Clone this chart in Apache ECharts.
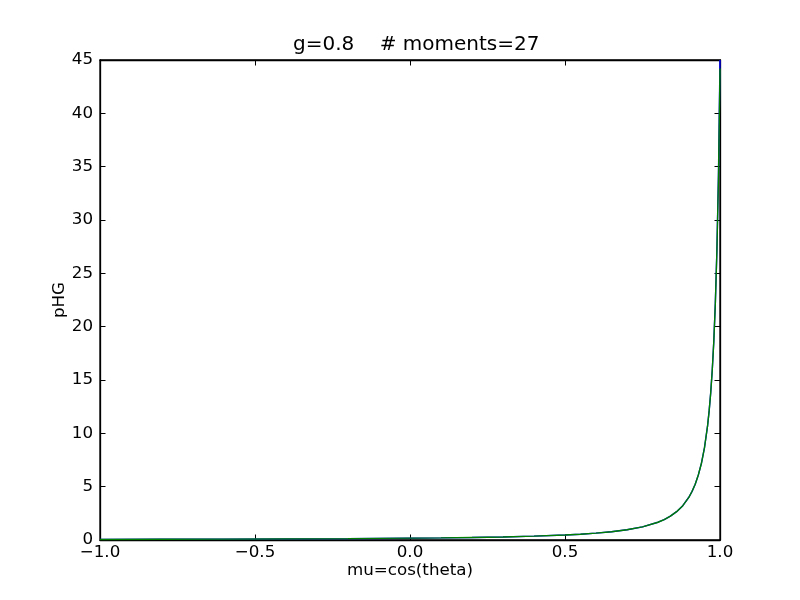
<!DOCTYPE html>
<html><head><meta charset="utf-8">
<script src="https://cdn.jsdelivr.net/npm/echarts@6/dist/echarts.min.js"></script>
<style>html,body{margin:0;padding:0;background:#fff}#c{width:800px;height:600px}</style>
</head><body><div id="c"></div>
<script>
var muValues = [-1.0,-0.8,-0.6,-0.4,-0.2,0.0,0.1,0.2,0.3,0.4,0.5,0.55,0.6,0.65,0.7,0.75,0.8,0.82,0.84,0.86,0.88,0.9,0.91,0.92,0.93,0.94,0.95,0.96,0.965,0.97,0.975,0.98,0.985,0.99,0.995,1.0];
var exactHG = [0.062,0.072,0.086,0.105,0.131,0.171,0.20,0.237,0.288,0.36,0.468,0.543,0.642,0.775,0.96,1.233,1.667,1.916,2.235,2.654,3.22,4.03,4.56,5.23,6.08,7.18,8.66,10.73,12.10,13.79,15.91,18.63,22.23,27.17,34.23,45.0];
var momentHG = [0.05,0.075,0.083,0.107,0.129,0.173,0.198,0.239,0.286,0.362,0.466,0.545,0.640,0.777,0.958,1.235,1.665,1.918,2.233,2.656,3.22,4.02,4.57,5.22,6.09,7.17,8.67,10.72,12.11,13.78,15.92,18.60,22.20,27.10,33.9,44.2];
var xTicks = [-1.0,-0.5,0.0,0.5,1.0];
var yTicks = [0,5,10,15,20,25,30,35,40,45];

function pairs(xs, ys){ return xs.map(function(x,i){return [x, ys[i]];}); }
var font = 'DejaVu Sans';
var chart = echarts.init(document.getElementById('c'), null, {renderer:'canvas'});
var axisCommon = {
  axisLine:{show:true,onZero:false,lineStyle:{color:'#000',width:1.3}},
  axisTick:{show:true,inside:true,length:5.5,lineStyle:{color:'#000',width:1}},
  splitLine:{show:false}
};
chart.setOption({
  animation:false,
  backgroundColor:'#fff',
  title:{text:'g=0.8    # moments=27',left:288,top:30,textStyle:{fontFamily:font,fontSize:20,fontWeight:'normal',color:'#000'}},
  grid:{left:100,right:80,top:60,bottom:60,show:true,borderColor:'#000',borderWidth:1.3},
  xAxis:[
    Object.assign({type:'value',min:-1,max:1,interval:0.5,position:'bottom',
      name:'mu=cos(theta)',nameLocation:'middle',nameGap:22,nameMoveOverlap:false,
      nameTextStyle:{fontFamily:font,fontSize:16.7,color:'#000'},
      axisLabel:{fontFamily:font,fontSize:16.7,color:'#000',margin:4,
        formatter:function(v){return v.toFixed(1).replace('-','\u2212');}}},axisCommon),
    Object.assign({type:'value',min:-1,max:1,interval:0.5,position:'top',axisLabel:{show:false}},axisCommon)
  ],
  yAxis:[
    Object.assign({type:'value',min:0,max:45,interval:5,position:'left',
      name:'pHG',nameLocation:'middle',nameGap:32,nameMoveOverlap:false,
      nameTextStyle:{fontFamily:font,fontSize:16.7,color:'#000'},
      axisLabel:{fontFamily:font,fontSize:16.7,color:'#000',margin:7}},axisCommon),
    Object.assign({type:'value',min:0,max:45,interval:5,position:'right',axisLabel:{show:false}},axisCommon)
  ],
  series:[
    {type:'line',data:pairs(muValues,exactHG),showSymbol:false,lineStyle:{color:'#0000ff',width:1.4},z:2},
    {type:'line',data:pairs(muValues,momentHG),showSymbol:false,lineStyle:{color:'#008000',width:1.4},z:3}
  ]
});
</script></body></html>
